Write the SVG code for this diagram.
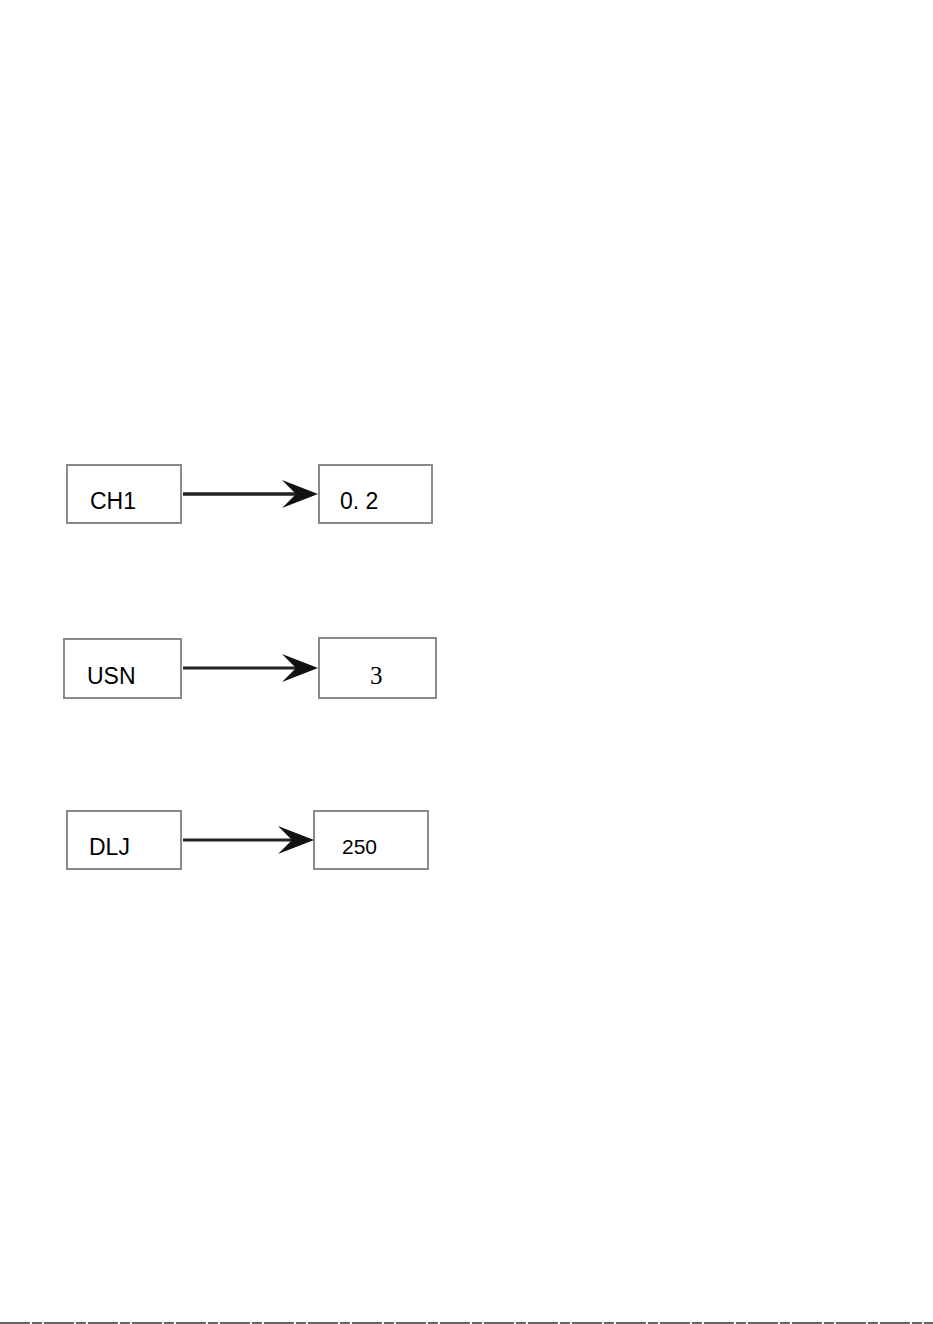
<svg xmlns="http://www.w3.org/2000/svg" width="933" height="1324" viewBox="0 0 933 1324">
<style>
.box{fill:#fff;stroke:#8a8a8a;stroke-width:2}
.t{font-family:"Liberation Sans",Arial,sans-serif;font-size:23px;fill:#000}
.s{font-family:"Liberation Serif","Times New Roman",serif;font-size:25px;fill:#000}
.c{stroke:#222;stroke-width:3;fill:none}
.ah{fill:#111}
</style>
<rect width="933" height="1324" fill="#fff"/>
<g id="n-ch1"><rect class="box" x="67" y="465" width="114" height="58"/><text class="t" x="90" y="509">CH1</text></g>
<g id="n-02"><rect class="box" x="319" y="465" width="113" height="58"/><text class="t" x="340" y="509">0. 2</text></g>
<g id="n-usn"><rect class="box" x="64" y="639" width="117" height="59"/><text class="t" x="87" y="684">USN</text></g>
<g id="n-3"><rect class="box" x="319" y="638" width="117" height="60"/><text class="s" x="370" y="684">3</text></g>
<g id="n-dlj"><rect class="box" x="67" y="811" width="114" height="58"/><text class="t" x="89" y="855">DLJ</text></g>
<g id="n-250"><rect class="box" x="314" y="811" width="114" height="58"/><text class="t" x="342" y="854" style="font-size:21px">250</text></g>
<g id="connectors">
<line class="c" x1="183" y1="494" x2="304" y2="494" style="stroke-width:3.5"/>
<path class="ah" d="M318,494 L282,480 L296,494 L282,508 Z"/>
<line class="c" x1="183" y1="668" x2="304" y2="668"/>
<path class="ah" d="M318,668 L282,654 L296,668 L282,682 Z"/>
<line class="c" x1="183" y1="840" x2="300" y2="840"/>
<path class="ah" d="M314,840 L278,826 L292,840 L278,854 Z"/>
</g>
<line x1="0" y1="1323" x2="933" y2="1323" stroke="#333" stroke-width="1.5" stroke-dasharray="30 2 10 2"/>
</svg>
